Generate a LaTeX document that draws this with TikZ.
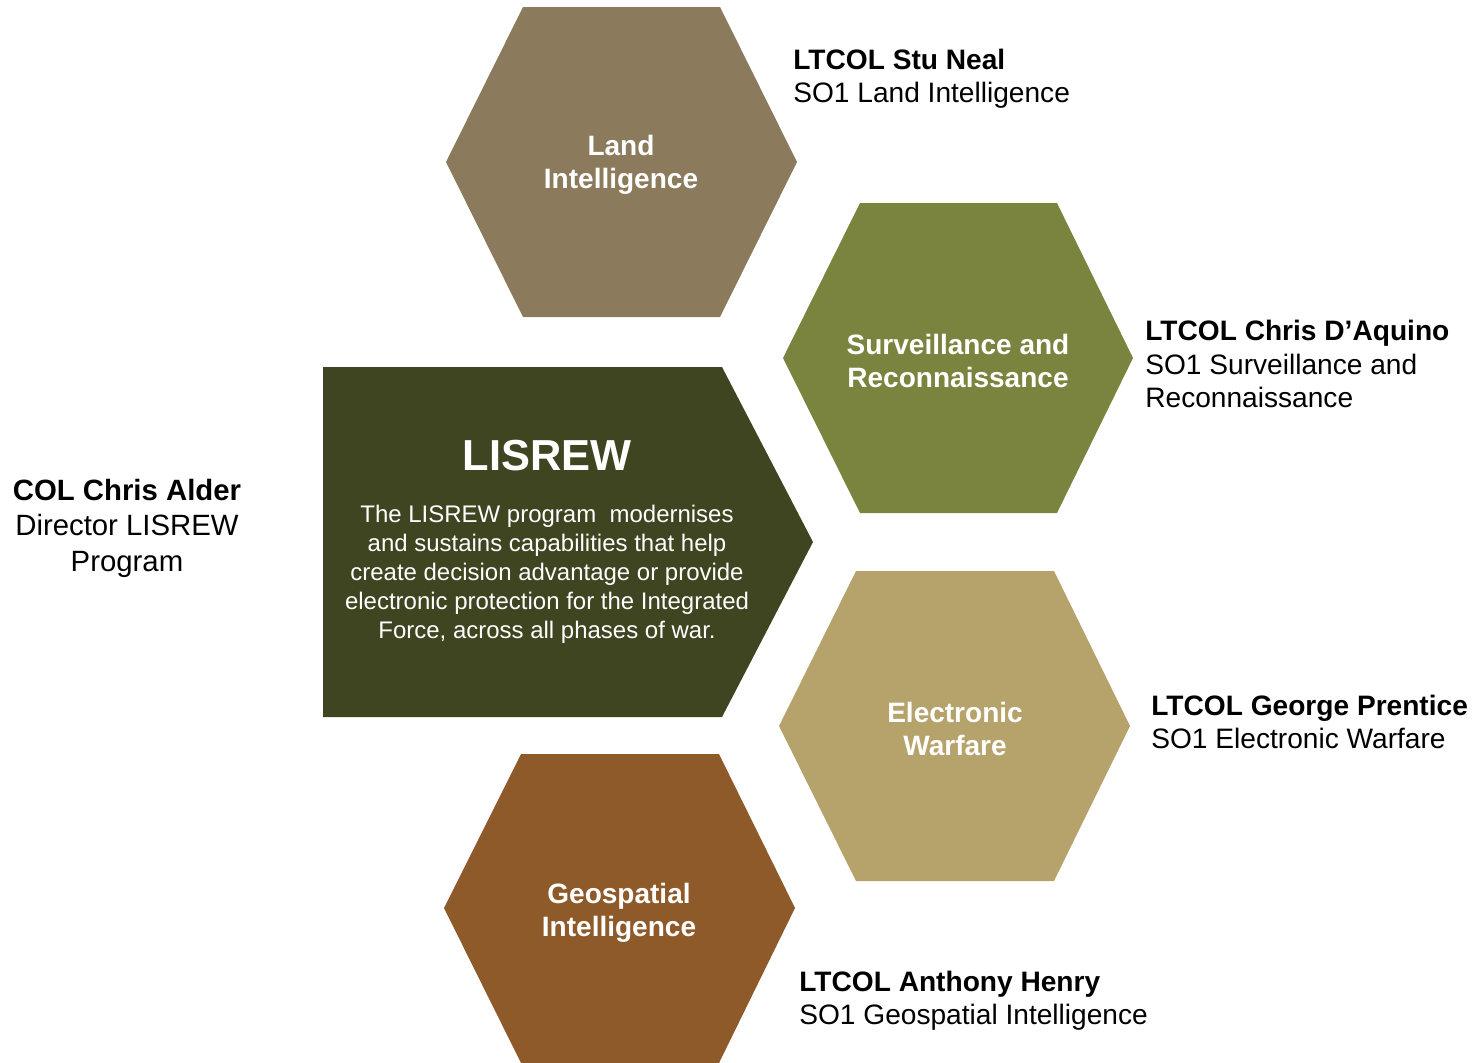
\documentclass[tikz,border=0pt]{standalone}
\usepackage{fontspec}
\setmainfont{Liberation Sans}

\definecolor{landcol}{HTML}{8B7B5C}
\definecolor{survcol}{HTML}{7A843E}
\definecolor{ewcol}{HTML}{B6A36B}
\definecolor{geocol}{HTML}{8F5A2A}
\definecolor{lisrewcol}{HTML}{3F4521}

\tikzset{
	hexlabel/.style={text=white, font=\fontsize{15.95}{18.8}\selectfont\bfseries, align=center, inner sep=0pt},
	person/.style={font=\fontsize{16}{18.9}\selectfont, align=left, anchor=west, inner sep=0pt},
}

\begin{document}
\begin{tikzpicture}[x=0.02cm, y=-0.02cm]
		\useasboundingbox (0,0) rectangle (1473,1062);
		
		\fill[landcol] (446,162) -- (523,7) -- (720,7) -- (797,162) -- (720,317) -- (523,317) -- cycle;
		\node[hexlabel] at (621,165) (land) {Land\\Intelligence};
		\node[person] at (793,79) (neal) {\textbf{LTCOL Stu Neal}\\SO1 Land Intelligence};
		
		\fill[survcol] (783,358) -- (860,203) -- (1057,203) -- (1133,358) -- (1057,513) -- (860,513) -- cycle;
		\node[hexlabel] at (958,361) (surv) {Surveillance and\\Reconnaissance};
		\node[person] at (1145,364) (aquino) {\textbf{LTCOL Chris D’Aquino}\\SO1 Surveillance and\\Reconnaissance};
		
		\fill[ewcol] (779,726) -- (856,571) -- (1054,571) -- (1130,726) -- (1054,881) -- (856,881) -- cycle;
		\node[hexlabel] at (955,729) (ew) {Electronic\\Warfare};
		\node[person] at (1151,722) (prentice) {\textbf{LTCOL George Prentice}\\SO1 Electronic Warfare};
		
		\fill[geocol] (444,908) -- (521,754) -- (719,754) -- (795,908) -- (719,1063) -- (521,1063) -- cycle;
		\node[hexlabel] at (619,913) (geo) {Geospatial\\Intelligence};
		\node[person] at (799,1001) (henry) {\textbf{LTCOL Anthony Henry}\\SO1 Geospatial Intelligence};
		
		\fill[lisrewcol] (323,367) -- (722,367) -- (813,542) -- (722,717) -- (323,717) -- cycle;
		\node[text=white, font=\fontsize{24.7}{29}\selectfont\bfseries] at (547,456) (lisrew) {LISREW};
		\node[text=white, font=\fontsize{13.65}{16.5}\selectfont, align=center, inner sep=0pt] at (547,574) (about)
			{The LISREW program\ \ modernises\\and sustains capabilities that help\\create decision advantage or provide\\electronic protection for the Integrated\\Force, across all phases of war.};
		
		\node[font=\fontsize{16.7}{20.2}\selectfont, align=center, inner sep=0pt] at (127,528) (alder) {\textbf{COL Chris Alder}\\Director LISREW\\Program};
	\end{tikzpicture}
\end{document}
